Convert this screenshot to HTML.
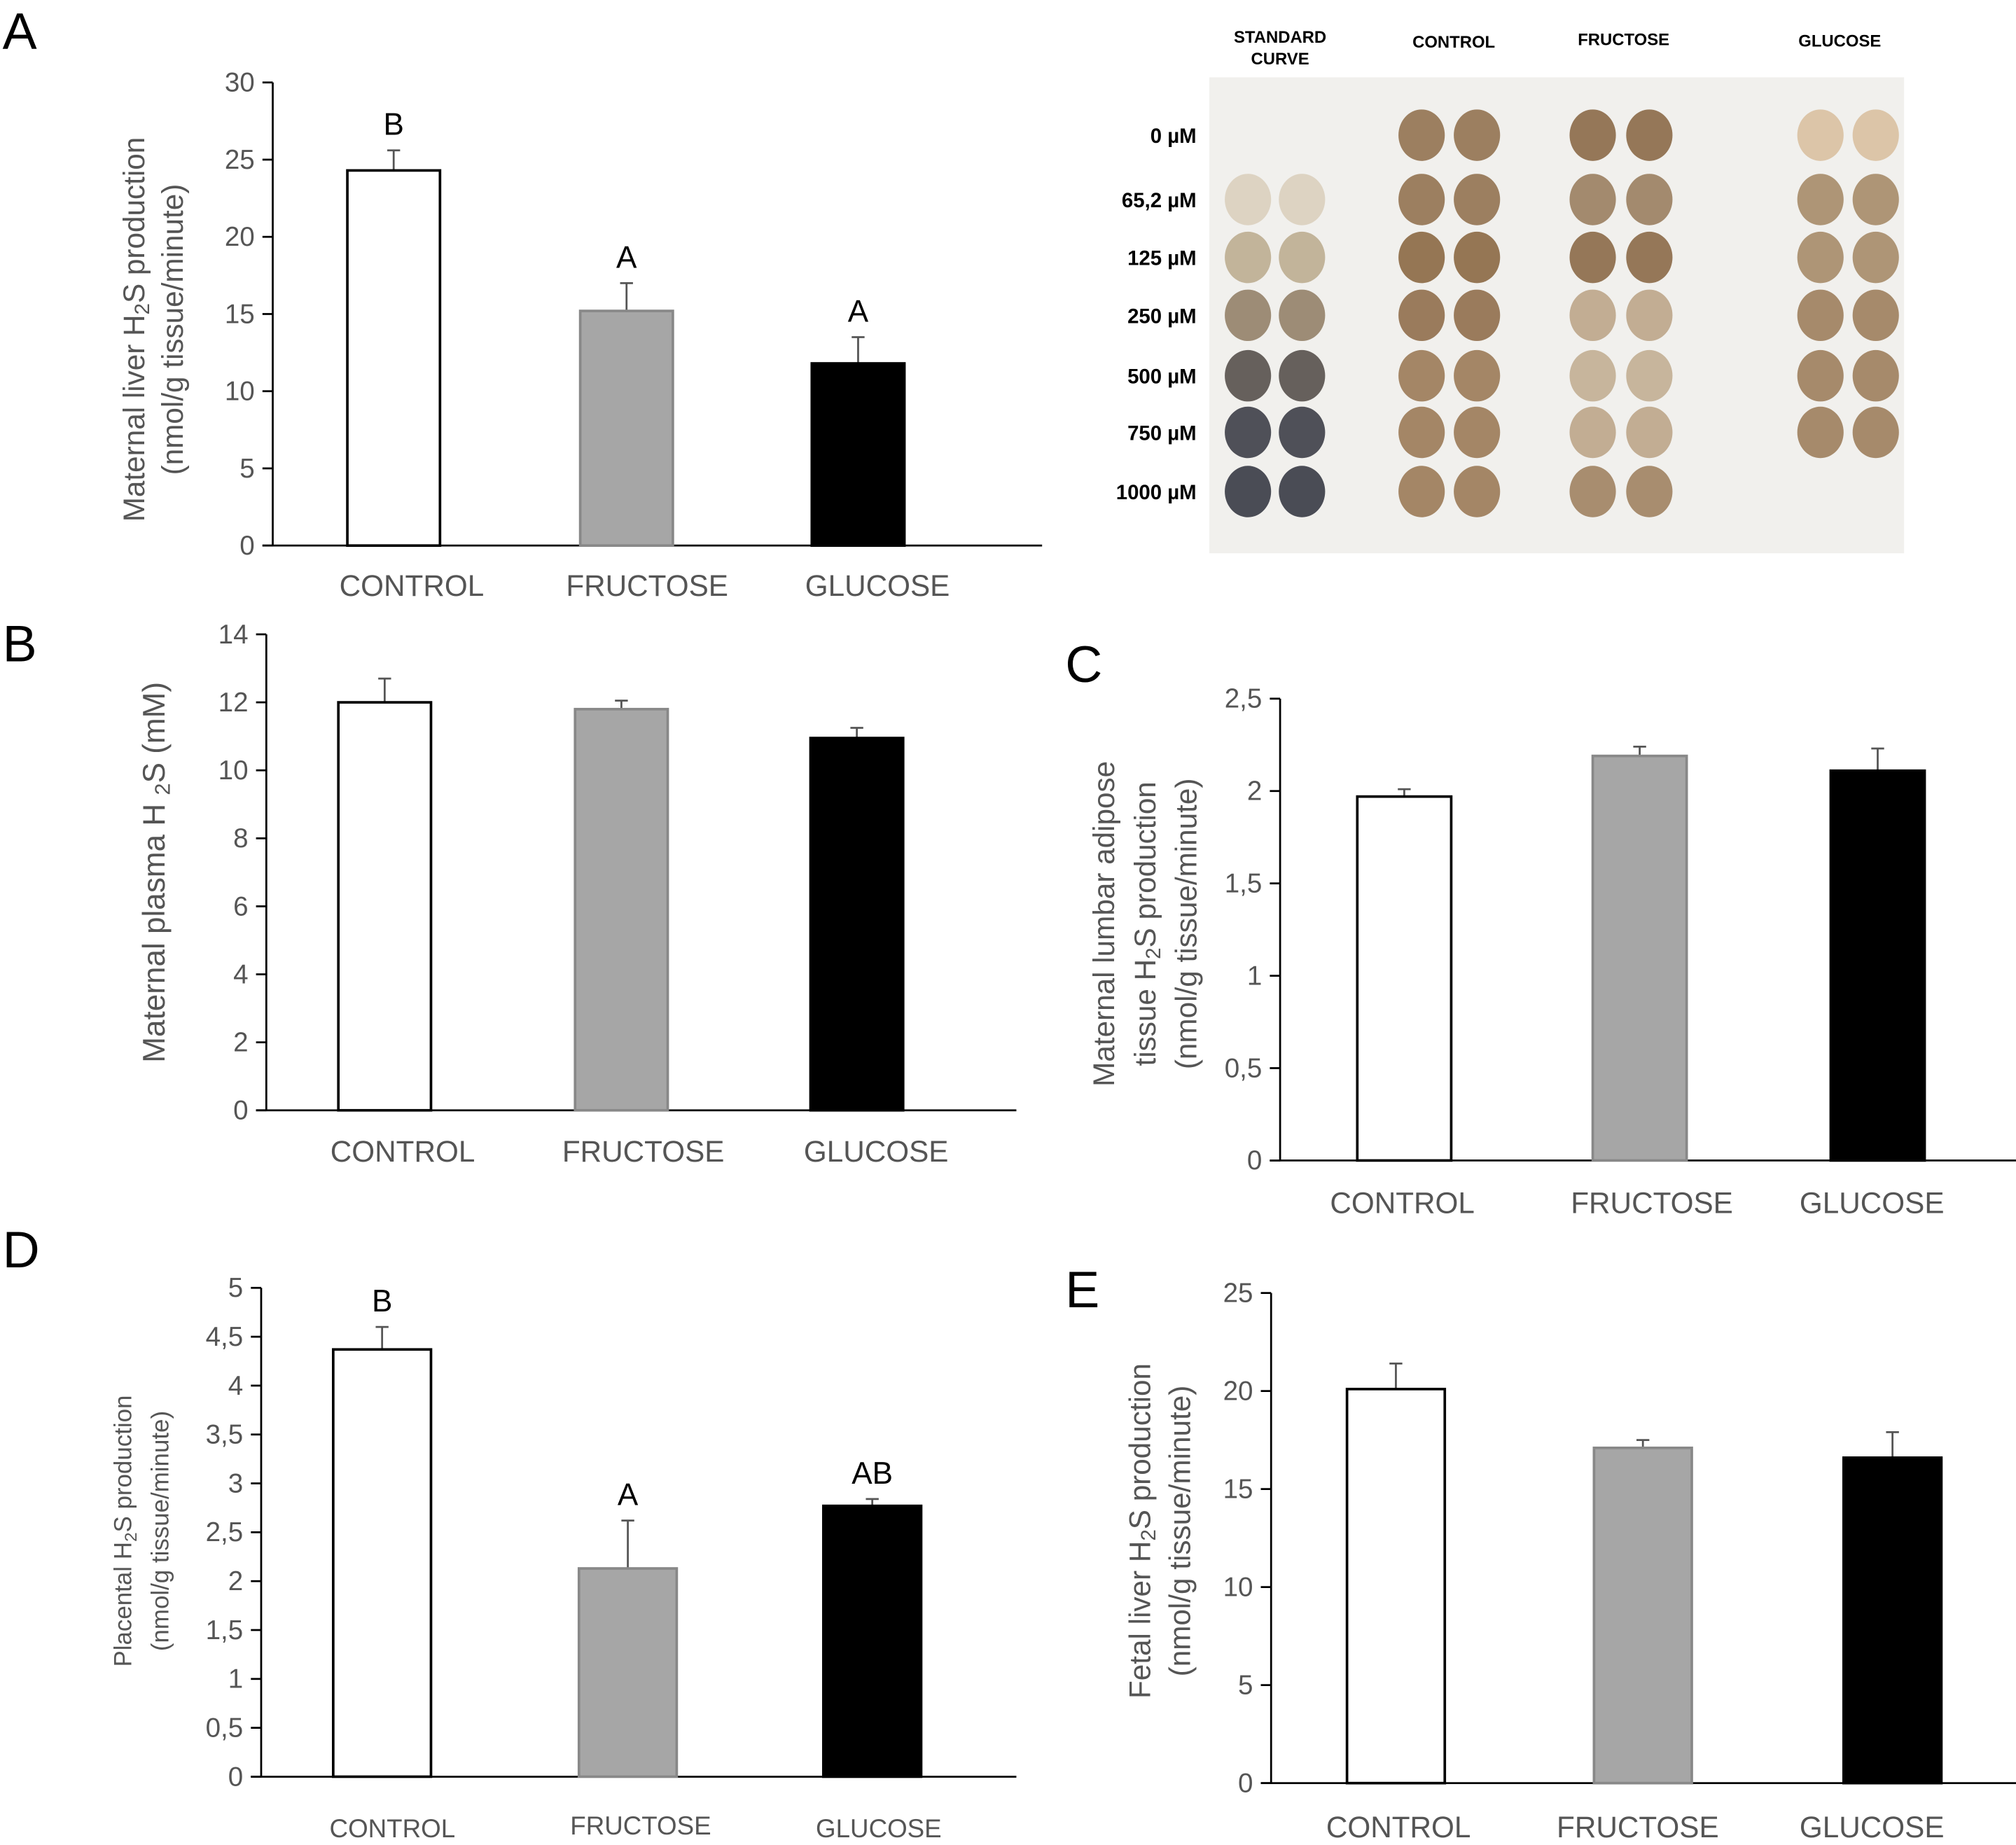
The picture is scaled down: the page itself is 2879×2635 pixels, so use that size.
<!DOCTYPE html>
<html><head><meta charset="utf-8"><style>
html,body{margin:0;padding:0;background:#fff}
svg{display:block}
text{font-family:"Liberation Sans",sans-serif}
</style></head><body>
<svg id="fig" width="2879" height="2635" viewBox="0 0 1567 1434" xmlns="http://www.w3.org/2000/svg">
<g font-size="40" fill="#000">
<text x="2" y="38">A</text>
<text x="2" y="514">B</text>
<text x="828" y="530">C</text>
<text x="2" y="985">D</text>
<text x="828" y="1016">E</text>
</g>
<g id="blot"></g>
</svg>
<script>
const categories = ["CONTROL","FRUCTOSE","GLUCOSE"];
const valuesA = [24.3, 15.2, 11.8];
const errorsA = [1.3, 1.8, 1.7];
const lettersA = ["B","A","A"];
const ticksA = ["0","5","10","15","20","25","30"];
const valuesB = [12.0, 11.8, 10.95];
const errorsB = [0.7, 0.25, 0.3];
const ticksB = ["0","2","4","6","8","10","12","14"];
const valuesC = [1.97, 2.19, 2.11];
const errorsC = [0.04, 0.05, 0.12];
const ticksC = ["0","0,5","1","1,5","2","2,5"];
const valuesD = [4.37, 2.13, 2.77];
const errorsD = [0.23, 0.49, 0.07];
const lettersD = ["B","A","AB"];
const ticksD = ["0","0,5","1","1,5","2","2,5","3","3,5","4","4,5","5"];
const valuesE = [20.1, 17.1, 16.6];
const errorsE = [1.3, 0.4, 1.3];
const ticksE = ["0","5","10","15","20","25"];

const NS = "http://www.w3.org/2000/svg";
const svg = document.getElementById('fig');
const fills = ["#fff","#a6a6a6","#000"];
const strokes = ["#000","#888","#000"];
function mk(tag, attrs, parent){const e=document.createElementNS(NS,tag);for(const k in attrs)e.setAttribute(k,attrs[k]);(parent||svg).appendChild(e);return e;}

function chart(cfg){
  const g = mk('g',{});
  
  
  const vmax = cfg.max;
  const y = v => cfg.y0 - (v/vmax)*(cfg.y0-cfg.yTop);
  const ya = mk('line',{x1:cfg.ax,y1:cfg.yTop,x2:cfg.ax,y2:cfg.y0,stroke:'#000','stroke-width':1.5},g);
  
  
  const xa = mk('line',{x1:cfg.ax-8,y1:cfg.y0,x2:cfg.axRight,y2:cfg.y0,stroke:'#000','stroke-width':1.5},g);
  
  
  cfg.ticks.forEach((t,i)=>{
    const v = i*cfg.step;
    const tk = mk('line',{x1:cfg.ax-8,y1:y(v),x2:cfg.ax,y2:y(v),stroke:'#000','stroke-width':1.5},g);
    
    
    const tl = mk('text',{x:cfg.ax-14,y:y(v)+7,'text-anchor':'end','font-size':cfg.tickSize||21,fill:'#555'},g);
    tl.textContent = t;
    
    
  });
  cfg.values.forEach((v,i)=>{
    const x = cfg.bx[i];
    const top = y(v+cfg.errors[i]);
    const eb = mk('path',{d:`M${x+cfg.bw/2},${y(v)} V${top} M${x+cfg.bw/2-5},${top} H${x+cfg.bw/2+5}`,stroke:'#555','stroke-width':1.5,fill:'none'},g);
    
    
    const r = mk('rect',{x:x,y:y(v),width:cfg.bw,height:cfg.y0-y(v),fill:fills[i],stroke:strokes[i],'stroke-width':2},g);
    
    
    if(cfg.letters){
      const lt = mk('text',{x:x+cfg.bw/2,y:top-12,'text-anchor':'middle','font-size':24,fill:'#000'},g);
      lt.textContent = cfg.letters[i];
      
      
    }
    const cl = mk('text',{x:cfg.cx[i],y:cfg.labY[i],'text-anchor':'middle','font-size':cfg.catSize||23,fill:'#555'},g);
    cl.textContent = categories[i];
    
    
  });
  cfg.title.forEach((line,i)=>{
    const tt = mk('text',{transform:`translate(${cfg.titleX[i]},${cfg.titleY}) rotate(-90)`,'text-anchor':'middle','font-size':cfg.titleSize||23,fill:'#555'},g);
    tt.innerHTML = line;
    
    
  });
}
const sub = '<tspan font-size="0.7em" dy="4">2</tspan><tspan dy="-4">';
chart({name:'chart-a-maternal-liver',values:valuesA,errors:errorsA,letters:lettersA,ticks:ticksA,step:5,max:30,
  ax:212,axRight:810,yTop:64,y0:424,bx:[270,451,631],bw:72,cx:[320,503,682],labY:[463,463,463],
  title:['Maternal liver H'+sub+'S production</tspan>','(nmol/g tissue/minute)'],titleX:[112,142],titleY:256});
chart({name:'chart-b-maternal-plasma',values:valuesB,errors:errorsB,ticks:ticksB,step:2,max:14,
  ax:207,axRight:790,yTop:493,y0:863,bx:[263,447,630],bw:72,cx:[313,500,681],labY:[903,903,903],
  title:['Maternal plasma  H '+sub+'S (mM)</tspan>'],titleX:[128],titleY:678,titleSize:24});
chart({name:'chart-c-lumbar-adipose',values:valuesC,errors:errorsC,ticks:ticksC,step:0.5,max:2.5,
  ax:995,axRight:1567,yTop:543,y0:902,bx:[1055,1238,1423],bw:73,cx:[1090,1284,1455],labY:[943,943,943],
  title:['Maternal lumbar adipose','tissue H'+sub+'S production</tspan>','(nmol/g tissue/minute)'],titleX:[866,898,930],titleY:718});
chart({name:'chart-d-placental',values:valuesD,errors:errorsD,letters:lettersD,ticks:ticksD,step:0.5,max:5,
  ax:203,axRight:790,yTop:1001,y0:1381,bx:[259,450,640],bw:76,cx:[305,498,683],labY:[1428,1426,1428],catSize:20,
  title:['Placental H'+sub+'S production</tspan>','(nmol/g tissue/minute)'],titleX:[102,131],titleY:1190,titleSize:19});
chart({name:'chart-e-fetal-liver',values:valuesE,errors:errorsE,ticks:ticksE,step:5,max:25,
  ax:988,axRight:1567,yTop:1005,y0:1386,bx:[1047,1239,1433],bw:76,cx:[1087,1273,1455],labY:[1428,1428,1428],
  title:['Fetal liver H'+sub+'S production</tspan>','(nmol/g tissue/minute)'],titleX:[894,925],titleY:1190});

const blot = document.getElementById('blot');
mk('rect',{x:940,y:60,width:540,height:370,fill:'#f1f0ed'},blot);
const heads = [["STANDARD",995,33],["CURVE",995,50],["CONTROL",1130,37],["FRUCTOSE",1262,35],["GLUCOSE",1430,36]];
heads.forEach(h=>{const t=mk('text',{x:h[1],y:h[2],'text-anchor':'middle','font-size':13,'font-weight':'bold',fill:'#000'},blot);t.textContent=h[0];
 
 });
const rowLabels = ["0 µM","65,2  µM","125  µM","250  µM","500  µM","750  µM","1000  µM"];
const rowY = [105,155,200,245,292,336,382];
rowLabels.forEach((l,i)=>{const t=mk('text',{x:930,y:rowY[i]+6,'text-anchor':'end','font-size':16,'font-weight':'bold',fill:'#000','xml:space':'preserve'},blot);t.textContent=l;
 
 });
const colX = [[970,1012],[1105,1148],[1238,1282],[1415,1458]];
const colors = [
 [null,'#ddd3c2','#c2b49a','#9d8c76','#66605c','#4f5058','#4a4c55'],
 ['#9c7f60','#9c7f60','#957654','#9a7b5c','#a48666','#a48666','#a48666'],
 ['#957758','#a38a6e','#957758','#c2ad93','#c7b59c','#c2ad93','#a88d6f'],
 ['#dcc5a8','#ae9576','#ae9576','#a68a6b','#a68a6b','#a68a6b',null]];
colX.forEach((cx,c)=>cx.forEach(x=>rowY.forEach((yy,r)=>{const col=colors[c][r];if(!col)return;
 const d=mk('ellipse',{cx:x,cy:yy,rx:18,ry:20,fill:col},blot);
 
 })));
</script>
</body></html>
